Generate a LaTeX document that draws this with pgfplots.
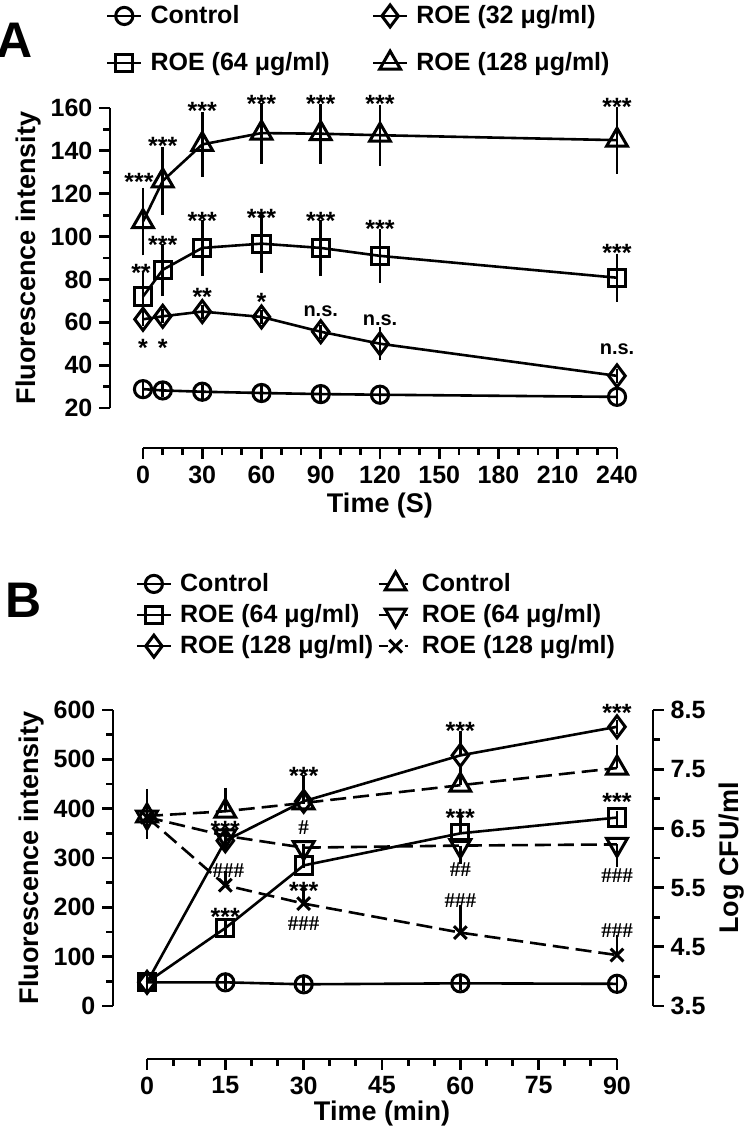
\documentclass[border=0pt]{standalone}
\usepackage{fontspec}
\setmainfont{Liberation Sans}
\newfontfamily\hashfont{Liberation Serif}
\usepackage{pgfplots}
\usepackage{pgfplotstable}
\pgfplotsset{compat=1.18}

% panel A: time (s), mean, SD
\pgfplotstableread{
x y e
0 28.8 0
10 28.2 0
30 27.6 0
60 27.0 0
90 26.5 0
120 26.2 0
240 25.2 0
}\actrl
\pgfplotstableread{
x y e
0 61.4 0
10 62.8 0
30 65.0 0
60 62.5 0
90 55.6 0
120 50.0 4.5
240 35.0 0
}\athirtytwo
\pgfplotstableread{
x y e
0 72.0 8.3
10 84.5 9.0
30 94.7 9.9
60 96.7 10.2
90 94.7 9.9
120 91.0 9.3
240 80.8 8.0
}\asixtyfour
\pgfplotstableread{
x y e
0 107.0 12.5
10 126.0 12.5
30 143.0 11.7
60 148.3 11.0
90 148.0 10.7
120 147.3 11.0
240 145.0 12.4
}\aonetwentyeight

% panel B: fluorescence (left axis)
\pgfplotstableread{
x y e
0 48 0
15 48 0
30 44 0
60 46 0
90 45 0
}\bfctrl
\pgfplotstableread{
x y e
0 48 0
15 158 0
30 285 8
60 350 25
90 382 0
}\bfsixtyfour
\pgfplotstableread{
x y e
0 48 0
15 335 8
30 415 40
60 508 35
90 566 0
}\bfonetwentyeight
% panel B: log CFU/ml (right axis)
\pgfplotstableread{
x y e
0 6.71 0.34
15 6.79 0.28
30 6.93 0.10
60 7.23 0.20
90 7.52 0.27
}\bcctrl
\pgfplotstableread{
x y e
0 6.69 0.25
15 6.375 0.05
30 6.175 0.05
60 6.21 0.20
90 6.23 0.27
}\bcsixtyfour
\pgfplotstableread{
x y e
0 6.69 0.30
15 5.54 0.12
30 5.23 0.17
60 4.74 0.34
90 4.36 0.22
}\bconetwentyeight

\pgfplotsset{
  prism/.style={
    scale only axis, clip=false,
    /pgf/number format/assume math mode=true,
    axis line style={line width=1.4pt, black},
    every tick/.style={line width=1.4pt, black},
    tick align=outside,
    major tick length=5.3pt, minor tick length=3.3pt,
    tick label style={font=\fontsize{12.5}{12.5}\selectfont\bfseries},
    label style={font=\fontsize{13.5}{14}\selectfont\bfseries},
  },
  ser/.style={black, line width=1.3pt},
  mo/.style={mark options={solid, line width=1.5pt, #1}},
  mk circ/.style={ser, mark=o, mark size=4.3pt, mo={}},
  mk sq/.style={ser, mark=square, mark size=4.3pt, mo={}},
  mk dia/.style={ser, mark=diamond, mark size=5.5pt, mo={}},
  mk tri/.style={ser, mark=triangle, mark size=6pt, mo={}},
  mk itri/.style={ser, mark=triangle, mark size=6pt, mo={rotate=180}},
  mk x/.style={ser, mark=x, mark size=4.5pt, mo={}},
  dsh/.style={dash pattern=on 8pt off 3.5pt},
  eb/.style={error bars/.cd, y dir=#1, y explicit,
    error bar style={line width=1.3pt, solid},
    error mark options={line width=1.3pt, mark size=3.5pt, solid}},
  leg/.style={
    legend style={draw=none, fill=none, legend columns=2,
      font=\fontsize{12.5}{12.5}\selectfont\bfseries,
      /tikz/every odd column/.append style={column sep=2pt},
      /tikz/every even column/.append style={column sep=#1}},
    legend cell align=left,
    legend image code/.code={
      \draw[mark repeat=2, mark phase=2, ##1] plot coordinates {(0pt,0pt) (8.5pt,0pt) (17pt,0pt)};},
  },
}
\tikzset{
  ann/.style={font=\fontsize{12.5}{12.5}\selectfont\bfseries, yshift=-2.7pt},
  ans/.style={font=\fontsize{10}{10}\selectfont\bfseries},
  anh/.style={font=\fontsize{10.5}{10.5}\selectfont\hashfont\bfseries},
}

\begin{document}
\begin{tikzpicture}
\useasboundingbox (0,0) rectangle (375pt,-565pt);

\node[font=\fontsize{25}{25}\selectfont\bfseries] at (7.5pt,-20pt) {A};
\node[font=\fontsize{25}{25}\selectfont\bfseries] at (12pt,-300pt) {B};

% ---------------- panel A ----------------
\begin{axis}[prism, leg=19pt,
  at={(55pt,-204pt)}, anchor=south west,
  width=260pt, height=150pt,
  xmin=-16.71, xmax=246.58, ymin=20, ymax=160,
  axis y line*=left, axis x line=none,
  ytick={20,40,...,160}, minor y tick num=1,
  ylabel={Fluorescence intensity}, ylabel shift=-2pt,
  legend style={at={(axis description cs:-0.02,1.37)}, anchor=north west, row sep=9pt},
]
\addplot[mk circ, eb=both] table[x=x, y=y, y error=e] {\actrl};
\addlegendentry{Control}
\addplot[mk dia, eb=both] table[x=x, y=y, y error=e] {\athirtytwo};
\addlegendentry{ROE (32 μg/ml)}
\addplot[mk sq, eb=both] table[x=x, y=y, y error=e] {\asixtyfour};
\addlegendentry{ROE (64 μg/ml)}
\addplot[mk tri, eb=both] table[x=x, y=y, y error=e] {\aonetwentyeight};
\addlegendentry{ROE (128 μg/ml)}

% 128
\node[ann, xshift=-2pt] at (axis cs:0,128) {***};
\node[ann] at (axis cs:10,145) {***};
\node[ann] at (axis cs:30,161) {***};
\node[ann] at (axis cs:60,164.6) {***};
\node[ann] at (axis cs:90,164.6) {***};
\node[ann] at (axis cs:120,164.6) {***};
\node[ann] at (axis cs:240,163) {***};
% 64
\node[ann, xshift=-1pt] at (axis cs:0,85.6) {**};
\node[ann] at (axis cs:10,98.8) {***};
\node[ann] at (axis cs:30,110) {***};
\node[ann] at (axis cs:60,111.4) {***};
\node[ann] at (axis cs:90,110) {***};
\node[ann] at (axis cs:120,106) {***};
\node[ann] at (axis cs:240,94.8) {***};
% 32
\node[ann] at (axis cs:0,50.7) {*};
\node[ann] at (axis cs:10,50.7) {*};
\node[ann] at (axis cs:30,74.3) {**};
\node[ann] at (axis cs:60,72) {*};
\node[ans] at (axis cs:90,65.2) {n.s.};
\node[ans] at (axis cs:120,61.1) {n.s.};
\node[ans] at (axis cs:240,47.5) {n.s.};
\end{axis}

\begin{axis}[prism,
  at={(71.5pt,-224pt)}, anchor=south west,
  width=237pt, height=1pt,
  xmin=0, xmax=240, ymin=0, ymax=1,
  axis x line*=bottom, axis y line=none,
  xtick={0,30,...,240}, minor x tick num=2,
  xlabel={Time (S)}, xlabel style={yshift=2pt},
]
\end{axis}

% ---------------- panel B ----------------
\begin{axis}[prism,
  at={(56.5pt,-503pt)}, anchor=south west,
  width=270pt, height=148pt,
  xmin=-6.511, xmax=96.893, ymin=3.5, ymax=8.5,
  axis y line*=right, axis x line=none,
  ytick={3.5,4.5,...,8.5}, minor y tick num=1,
  yticklabels={3.5,4.5,5.5,6.5,7.5,8.5},
  ylabel={Log CFU/ml},
]
\addplot[mk tri, dsh, eb=plus] table[x=x, y=y, y error=e] {\bcctrl};
\addplot[mk itri, dsh, eb=minus] table[x=x, y=y, y error=e] {\bcsixtyfour};
\addplot[mk x, dsh, eb=plus] table[x=x, y=y, y error=e] {\bconetwentyeight};
\end{axis}

\begin{axis}[prism, leg=0pt,
  at={(56.5pt,-503pt)}, anchor=south west,
  width=270pt, height=148pt,
  xmin=-6.511, xmax=96.893, ymin=0, ymax=600,
  axis y line*=left, axis x line=none,
  ytick={0,100,...,600}, minor y tick num=1,
  ylabel={Fluorescence intensity}, ylabel shift=-2pt,
  legend style={at={(axis description cs:0.03,1.49)}, anchor=north west, row sep=1pt},
]
\addplot[mk circ, eb=plus] table[x=x, y=y, y error=e] {\bfctrl};
\addlegendentry{Control}
\addlegendimage{mk tri, dash pattern=on 4.5pt off 8.5pt on 1.5pt off 5pt}
\addlegendentry{Control}
\addplot[mk sq, eb=plus] table[x=x, y=y, y error=e] {\bfsixtyfour};
\addlegendentry{ROE (64 μg/ml)}
\addlegendimage{mk itri, dash pattern=on 4.5pt off 8.5pt on 1.5pt off 5pt}
\addlegendentry{ROE (64 μg/ml)}
\addplot[mk dia, eb=plus] table[x=x, y=y, y error=e] {\bfonetwentyeight};
\addlegendentry{ROE (128 μg/ml)}
\addlegendimage{mk x, dash pattern=on 4.5pt off 8.5pt on 1.5pt off 5pt}
\addlegendentry{ROE (128 μg/ml)}

% ROE 128 fluorescence
\node[ann] at (axis cs:15,368) {***};
\node[ann] at (axis cs:30,477) {***};
\node[ann] at (axis cs:60,569) {***};
\node[ann] at (axis cs:90,605) {***};
% ROE 64 fluorescence
\node[ann] at (axis cs:15,192) {***};
\node[ann] at (axis cs:30,244) {***};
\node[ann] at (axis cs:60,392) {***};
\node[ann] at (axis cs:90,425) {***};
% ROE 64 CFU
\node[anh] at (axis cs:30,361) {\#};
\node[anh] at (axis cs:60,277) {\#\#};
\node[anh] at (axis cs:90,265) {\#\#\#};
% ROE 128 CFU
\node[anh, xshift=1.5pt] at (axis cs:15,275) {\#\#\#};
\node[anh] at (axis cs:30,167) {\#\#\#};
\node[anh] at (axis cs:60,213) {\#\#\#};
\node[anh] at (axis cs:90,152) {\#\#\#};
\end{axis}

\begin{axis}[prism,
  at={(73.5pt,-529.5pt)}, anchor=south west,
  width=235pt, height=1pt,
  xmin=0, xmax=90, ymin=0, ymax=1,
  axis x line*=bottom, axis y line=none,
  xtick={0,15,...,90}, minor x tick num=2,
  xlabel={Time (min)}, xlabel style={yshift=3.5pt},
]
\end{axis}
\end{tikzpicture}
\end{document}
